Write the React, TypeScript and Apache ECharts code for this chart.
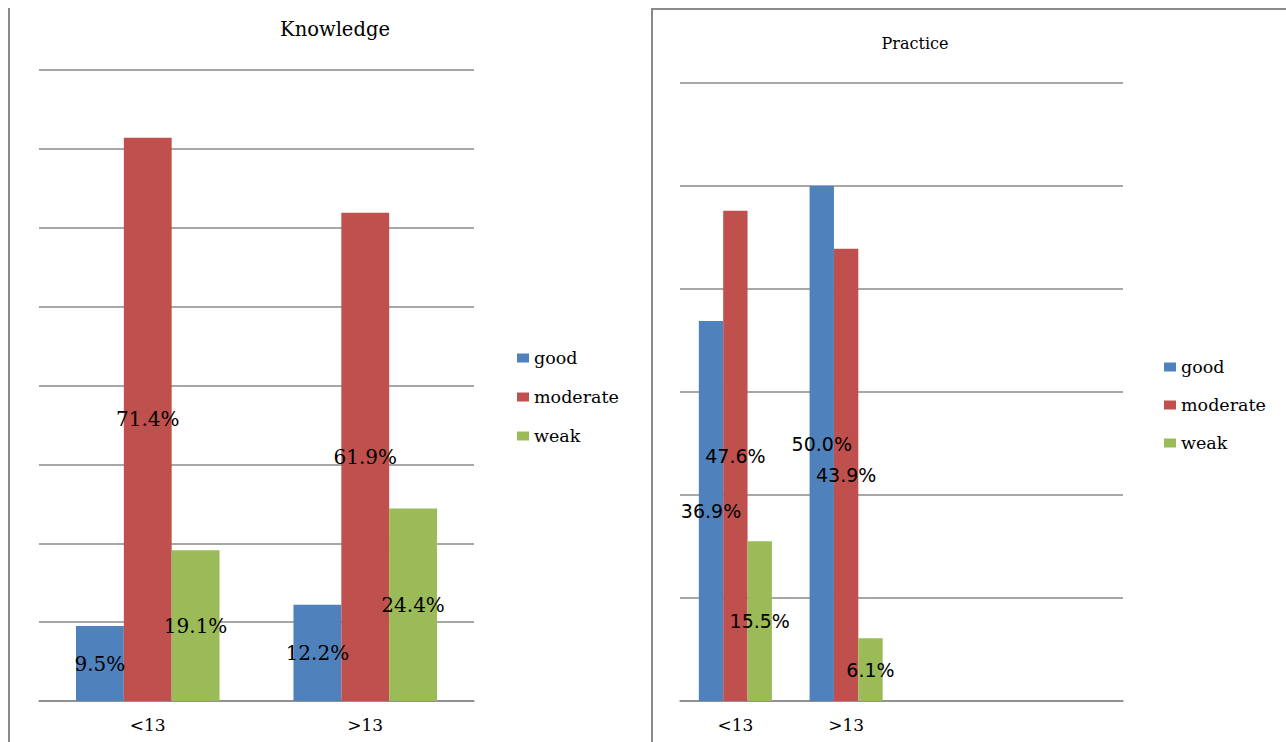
import React, { useEffect, useRef } from "react";
import * as echarts from "echarts";

const seriesNames = ["good", "moderate", "weak"];
const knowledgeCategories = ["<13", ">13"];
const knowledgeGood = [9.5, 12.2];
const knowledgeModerate = [71.4, 61.9];
const knowledgeWeak = [19.1, 24.4];
const practiceCategories = ["<13", ">13", "", ""];
const practiceGood = [36.9, 50.0];
const practiceModerate = [47.6, 43.9];
const practiceWeak = [15.5, 6.1];
const colors = ["#4F81BD", "#C0504D", "#9BBB59"];

const SERIF = "DejaVu Serif";
const SANS = "DejaVu Sans";
const GRID_COLOR = "#8a8a8a";

export default function App() {
  const ref = useRef<HTMLDivElement>(null);
  useEffect(() => {
    if (!ref.current) return;
    const chart = echarts.init(ref.current, undefined, { renderer: "svg" });
    const fmt = (p: any) => Number(p.value).toFixed(1) + "%";
    const mk = (name: string, data: number[], idx: number, ci: number, font: string, size: number) => ({
      name,
      type: "bar",
      xAxisIndex: idx,
      yAxisIndex: idx,
      data,
      barGap: "0%",
      barCategoryGap: "34%",
      itemStyle: { color: colors[ci] },
      label: {
        show: true,
        position: "inside",
        formatter: fmt,
        color: "#000",
        fontFamily: font,
        fontSize: size,
      },
    });
    const legendBase = {
      orient: "vertical",
      icon: "rect",
      itemWidth: 12,
      itemHeight: 9,
      itemGap: 19,
      padding: 0,
      data: seriesNames,
      textStyle: { fontFamily: SERIF, fontSize: 17.5, color: "#000", lineHeight: 20 },
    };
    const axisLabelStyle = { fontFamily: SERIF, fontSize: 17, color: "#000", margin: 15 };
    chart.setOption({
      animation: false,
      backgroundColor: "#fff",
      title: [
        {
          text: "Knowledge",
          left: 330,
          top: 14,
          textAlign: "center",
          textStyle: { fontFamily: SERIF, fontSize: 19.5, fontWeight: "normal", color: "#000" },
        },
        {
          text: "Practice",
          left: 910,
          top: 30,
          textAlign: "center",
          textStyle: { fontFamily: SERIF, fontSize: 16, fontWeight: "normal", color: "#000" },
        },
      ],
      legend: [
        { ...legendBase, left: 517, top: 348 },
        { ...legendBase, left: 1164, top: 357, itemGap: 18 },
      ],
      grid: [
        { left: 39, top: 70, width: 435, height: 631 },
        { left: 680, top: 83, width: 443, height: 618 },
      ],
      xAxis: [
        {
          type: "category",
          gridIndex: 0,
          data: knowledgeCategories,
          axisTick: { show: false },
          axisLine: { lineStyle: { color: GRID_COLOR, width: 1.5 } },
          axisLabel: axisLabelStyle,
        },
        {
          type: "category",
          gridIndex: 1,
          data: practiceCategories,
          axisTick: { show: false },
          axisLine: { lineStyle: { color: GRID_COLOR, width: 1.5 } },
          axisLabel: axisLabelStyle,
        },
      ],
      yAxis: [
        {
          type: "value",
          gridIndex: 0,
          min: 0,
          max: 80,
          interval: 10,
          axisLabel: { show: false },
          axisLine: { show: false },
          axisTick: { show: false },
          splitLine: { lineStyle: { color: GRID_COLOR, width: 1.5 } },
        },
        {
          type: "value",
          gridIndex: 1,
          min: 0,
          max: 60,
          interval: 10,
          axisLabel: { show: false },
          axisLine: { show: false },
          axisTick: { show: false },
          splitLine: { lineStyle: { color: GRID_COLOR, width: 1.5 } },
        },
      ],
      graphic: [
        { type: "line", shape: { x1: 9, y1: 8, x2: 9, y2: 742 }, style: { stroke: "#8a8a8a", lineWidth: 2 } },
        { type: "line", shape: { x1: 652, y1: 9, x2: 652, y2: 742 }, style: { stroke: "#8a8a8a", lineWidth: 2 } },
        { type: "line", shape: { x1: 651, y1: 9, x2: 1286, y2: 9 }, style: { stroke: "#8a8a8a", lineWidth: 2 } },
      ],
      series: [
        mk("good", knowledgeGood, 0, 0, SERIF, 20),
        mk("moderate", knowledgeModerate, 0, 1, SERIF, 20),
        mk("weak", knowledgeWeak, 0, 2, SERIF, 20),
        mk("good", practiceGood, 1, 0, SANS, 19),
        mk("moderate", practiceModerate, 1, 1, SANS, 19),
        mk("weak", practiceWeak, 1, 2, SANS, 19),
      ],
    });
    return () => chart.dispose();
  }, []);
  return (
    <div
      ref={ref}
      style={{ position: "absolute", left: 0, top: 0, width: 1286, height: 742 }}
    />
  );
}
